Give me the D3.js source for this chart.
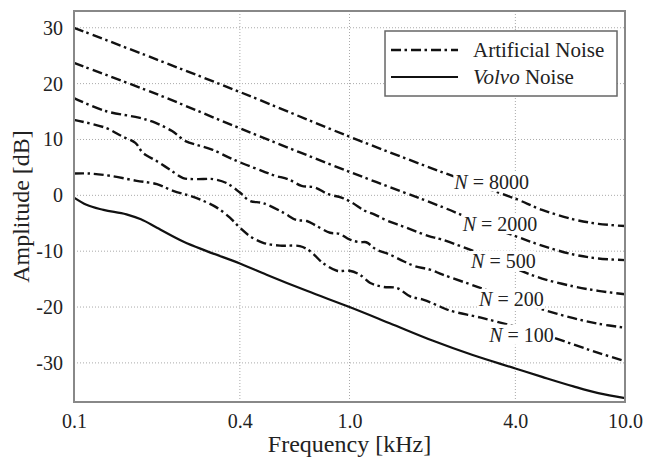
<!DOCTYPE html>
<meta charset="utf-8">
<style>
body { margin: 0; background: #fff; }
svg { display: block; }
.grid line { stroke: #aaa; stroke-width: 1; stroke-dasharray: 1,2; }
.frame { fill: none; stroke: #888; stroke-width: 2; }
.axis text { font-size: 20px; fill: #222; }
.axis path, .axis line { display: none; }
.curve { fill: none; stroke: #111; stroke-width: 2.4; stroke-dasharray: 10,3.5,2.5,4; }
.volvo { fill: none; stroke: #111; stroke-width: 2.2; }
.title { font-size: 24px; fill: #222; }
.nlabel { font-size: 20px; fill: #222; }
.legend text { font-size: 21px; fill: #222; }
</style>
<svg width="646" height="461"></svg>
<script src="https://d3js.org/d3.v7.min.js"></script>
<script>

// ---- data (frequency in kHz, amplitude in dB) ----
var volvoFreq = [0.1, 0.111, 0.128, 0.155, 0.175, 0.2, 0.25, 0.3, 0.4, 0.5, 0.7, 1.0, 1.4, 2.0, 2.8, 4.0, 5.0, 6.5, 8.0, 10.0];
var volvoAmp  = [-0.4, -1.7, -2.6, -3.4, -4.3, -5.8, -8.3, -9.9, -12.2, -14.2, -17.1, -20.0, -22.9, -26.0, -28.6, -31.0, -32.5, -34.2, -35.4, -36.3];

var n8000Freq = [0.1, 0.2, 0.4, 1.0, 2.0, 3.0, 4.0, 5.0, 6.5, 8.0, 10.0];
var n8000Amp  = [30, 24.3, 18.5, 10.5, 4.8, 1.6, -0.6, -2.6, -4.3, -5.1, -5.5];

var n2000Freq = [0.1, 0.2, 0.4, 1.0, 2.2, 3.0, 4.0, 5.0, 6.5, 8.0, 10.0];
var n2000Amp  = [23.7, 18.1, 12.0, 4.2, -2.2, -5.0, -7.3, -9.0, -10.6, -11.3, -11.6];

var n500Freq = [0.1, 0.13, 0.172, 0.197, 0.227, 0.254, 0.283, 0.317, 0.364, 0.41, 0.486, 0.537, 0.598, 0.67, 0.75, 0.837, 0.935, 1.02, 1.14, 1.23, 1.38, 1.55, 1.73, 1.94, 2.16, 3.0, 4.0, 5.0, 6.5, 8.0, 10.0];
var n500Amp  = [17.4, 15.1, 13.9, 13.0, 11.5, 9.7, 8.95, 8.2, 6.8, 5.7, 4.3, 3.5, 2.9, 1.7, 1.4, 0.2, -0.4, -1.3, -2.8, -3.4, -4.6, -5.5, -6.4, -7.3, -7.9, -10.5, -13.1, -14.9, -16.3, -17.1, -17.7];

var n200Freq = [0.1, 0.13, 0.149, 0.167, 0.178, 0.2, 0.223, 0.249, 0.279, 0.32, 0.358, 0.4, 0.435, 0.486, 0.575, 0.64, 0.70, 0.76, 0.85, 0.92, 1.0, 1.09, 1.15, 1.25, 1.40, 1.57, 1.73, 1.96, 2.18, 3.0, 4.0, 5.0, 6.5, 8.0, 10.0];
var n200Amp  = [13.5, 12.1, 10.6, 9.4, 7.6, 6.1, 4.6, 3.1, 2.9, 2.9, 2.2, 0.5, -1.0, -1.4, -3.1, -4.4, -4.6, -5.5, -6.7, -6.9, -7.9, -8.4, -8.4, -9.7, -10.6, -11.8, -12.7, -13.3, -14.2, -16.6, -18.8, -20.4, -22.0, -23.0, -23.7];

var n100Freq = [0.1, 0.114, 0.135, 0.169, 0.2, 0.229, 0.264, 0.295, 0.33, 0.368, 0.4, 0.435, 0.486, 0.56, 0.66, 0.72, 0.80, 0.90, 1.0, 1.09, 1.19, 1.33, 1.49, 1.66, 1.86, 2.13, 2.3, 3.0, 4.0, 5.0, 6.5, 8.0, 10.0];
var n100Amp  = [3.9, 3.9, 3.5, 2.6, 2.0, 0.8, -0.1, -1.0, -2.2, -4.0, -5.8, -7.3, -8.5, -9.0, -9.1, -10.0, -12.1, -13.5, -13.5, -14.2, -15.7, -16.4, -16.6, -18.1, -18.7, -19.9, -20.6, -21.9, -23.5, -24.8, -26.7, -28.2, -29.7];

var seriesNames = ["8000", "2000", "500", "200", "100"];
// where each "N = ..." label sits (kHz, dB of text baseline)
var labelFreq = [3.28, 3.52, 3.62, 3.87, 4.21];
var labelAmp  = [1.2, -6.4, -13.0, -19.8, -26.2];

var xTicks = [0.1, 0.4, 1.0, 4.0, 10.0];
var yTicks = [-30, -20, -10, 0, 10, 20, 30];

var serif = "'Liberation Serif', 'Times New Roman', serif";

// ---- layout ----
var svg = d3.select("svg").style("font-family", serif),
    margin = {top: 11, right: 21, bottom: 59, left: 74},
    width = +svg.attr("width") - margin.left - margin.right,
    height = +svg.attr("height") - margin.top - margin.bottom;

var x = d3.scaleLog().domain([0.1, 10]).range([0, width]),
    y = d3.scaleLinear().domain([-37, 33]).range([height, 0]);

var g = svg.append("g")
    .attr("transform", "translate(" + margin.left + "," + margin.top + ")");

// grid
var grid = g.append("g").attr("class", "grid");
grid.selectAll(".gy").data(yTicks).enter().append("line")
    .attr("x1", 0).attr("x2", width)
    .attr("y1", function(d) { return y(d); }).attr("y2", function(d) { return y(d); });
grid.selectAll(".gx").data(xTicks.slice(1, -1)).enter().append("line")
    .attr("y1", 0).attr("y2", height)
    .attr("x1", function(d) { return x(d); }).attr("x2", function(d) { return x(d); });

// axes (labels only)
g.append("g")
    .attr("class", "axis axis--x")
    .attr("transform", "translate(0," + height + ")")
    .call(d3.axisBottom(x).tickValues(xTicks).tickFormat(d3.format(".1f")).tickSize(0).tickPadding(12))
    .attr("font-family", null).attr("font-size", null)
    .style("font-family", serif);

g.append("g")
    .attr("class", "axis axis--y")
    .call(d3.axisLeft(y).tickValues(yTicks).tickFormat(function(d) { return String(d); }).tickSize(0).tickPadding(11))
    .attr("font-family", null).attr("font-size", null)
    .style("font-family", serif);

// curves
var line = d3.line()
    .x(function(d) { return x(d[0]); })
    .y(function(d) { return y(d[1]); })
    .curve(d3.curveCatmullRom.alpha(0.5));

var artificial = [
  d3.zip(n8000Freq, n8000Amp),
  d3.zip(n2000Freq, n2000Amp),
  d3.zip(n500Freq, n500Amp),
  d3.zip(n200Freq, n200Amp),
  d3.zip(n100Freq, n100Amp)
];

g.selectAll(".curve")
    .data(artificial)
    .enter().append("path")
    .attr("class", "curve")
    .attr("d", line);

g.append("path")
    .attr("class", "volvo")
    .attr("d", line.curve(d3.curveMonotoneX)(d3.zip(volvoFreq, volvoAmp)));

// N labels, with a white box that hides the curve underneath
var labels = g.selectAll(".nl")
    .data(seriesNames)
    .enter().append("g");

labels.each(function(name, i) {
  var lg = d3.select(this);
  var bg = lg.append("rect").attr("fill", "#fff");
  var t = lg.append("text")
      .attr("class", "nlabel")
      .style("font-family", serif)
      .attr("x", x(labelFreq[i]))
      .attr("y", y(labelAmp[i]))
      .attr("text-anchor", "middle");
  t.append("tspan").attr("font-style", "italic").text("N");
  t.append("tspan").text(" = " + name);
  var b = t.node().getBBox();
  bg.attr("x", b.x).attr("y", b.y + 1).attr("width", b.width).attr("height", b.height - 2);
});

// frame
g.append("rect")
    .attr("class", "frame")
    .attr("width", width)
    .attr("height", height);

// legend
var legend = g.append("g").attr("class", "legend")
    .attr("transform", "translate(" + x(1.5) + ",20)");
legend.append("rect")
    .attr("x", -13).attr("y", 0)
    .attr("width", 232).attr("height", 65)
    .attr("fill", "#fff").attr("stroke", "#666").attr("stroke-width", 1.5);
legend.append("line").attr("class", "curve")
    .attr("x1", -7).attr("x2", 60).attr("y1", 19).attr("y2", 19);
legend.append("line").attr("class", "volvo")
    .attr("x1", -7).attr("x2", 60).attr("y1", 46).attr("y2", 46);
legend.append("text").style("font-family", serif)
    .attr("x", 75).attr("y", 26).text("Artificial Noise");
var lt = legend.append("text").style("font-family", serif).attr("x", 75).attr("y", 53);
lt.append("tspan").attr("font-style", "italic").text("Volvo");
lt.append("tspan").text(" Noise");

// axis titles
svg.append("text")
    .attr("class", "title")
    .style("font-family", serif)
    .attr("x", margin.left + width / 2)
    .attr("y", 452)
    .attr("text-anchor", "middle")
    .text("Frequency [kHz]");

svg.append("text")
    .attr("class", "title")
    .style("font-family", serif)
    .attr("transform", "translate(29," + (margin.top + height / 2) + ") rotate(-90)")
    .attr("text-anchor", "middle")
    .text("Amplitude [dB]");

</script>
